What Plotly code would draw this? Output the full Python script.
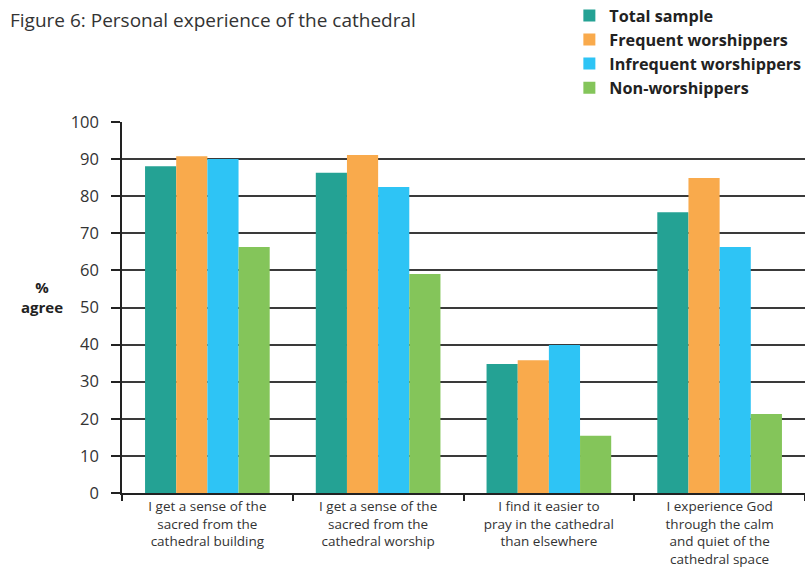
import plotly.graph_objects as go

categories = [
    "I get a sense of the<br>sacred from the<br>cathedral building",
    "I get a sense of the<br>sacred from the<br>cathedral worship",
    "I find it easier to<br>pray in the cathedral<br>than elsewhere",
    "I experience God<br>through the calm<br>and quiet of the<br>cathedral space",
]
series_names = ["Total sample", "Frequent worshippers", "Infrequent worshippers", "Non-worshippers"]
total_sample = [88.1, 86.3, 34.8, 75.7]
frequent = [90.8, 91.1, 35.8, 84.9]
infrequent = [90.0, 82.5, 39.9, 66.3]
non_worshippers = [66.3, 59.0, 15.4, 21.3]
y_ticks = [0, 10, 20, 30, 40, 50, 60, 70, 80, 90, 100]

colors = ["#24A294", "#F9AA4C", "#2EC4F5", "#84C55A"]
values = [total_sample, frequent, infrequent, non_worshippers]

FONT = "Open Sans"
fig = go.Figure()
for name, vals, col in zip(series_names, values, colors):
    fig.add_trace(go.Bar(x=categories, y=vals, name=name, marker=dict(color=col, line=dict(width=0))))

fig.update_layout(
    width=805, height=567,
    margin=dict(l=122, r=0, t=122, b=74, autoexpand=False),
    paper_bgcolor="white", plot_bgcolor="white",
    barmode="group", bargap=0.27, bargroupgap=0,
    font=dict(family=FONT, color="#333333", size=13),
    showlegend=True,
    legend=dict(x=0.655, y=1.333, xanchor="left", yanchor="top",
                font=dict(family=FONT, size=16.2, color="#222222", weight="bold"),
                tracegroupgap=0, itemwidth=30, bgcolor="rgba(0,0,0,0)"),
    annotations=[
        dict(text="Figure 6: Personal experience of the cathedral", xref="paper", yref="paper",
             x=-114/683, y=(493-20)/371, xanchor="left", yanchor="middle", showarrow=False,
             font=dict(family=FONT, size=19, color="#333333")),
        dict(text="<b>%<br>agree</b>", xref="paper", yref="paper",
             x=-(122-42)/683, y=(493-297)/371, xanchor="center", yanchor="middle", showarrow=False,
             font=dict(family=FONT, size=15, color="#222222")),
    ],
)
fig.update_yaxes(range=[0, 100], tickvals=y_ticks, showgrid=True, gridcolor="#3a3a3a", gridwidth=1.5,
                 showline=True, linecolor="#222222", linewidth=1.5, ticks="outside", ticklen=9,
                 tickcolor="#222222", tickwidth=1.5, tickfont=dict(size=16.5, color="#333333"),
                 zeroline=False, fixedrange=True, automargin=False, ticklabelstandoff=9)
fig.update_xaxes(showline=True, linecolor="#222222", linewidth=1.5, ticks="outside", tickson="boundaries",
                 ticklen=6, tickcolor="#222222", tickwidth=1.5, tickfont=dict(size=13.5, color="#333333"),
                 showgrid=False, fixedrange=True, automargin=False, ticklabelstandoff=0)

fig.write_html("out.html", config={"displayModeBar": False},
               post_script="document.body.style.margin='0';document.body.style.overflow='hidden';")
